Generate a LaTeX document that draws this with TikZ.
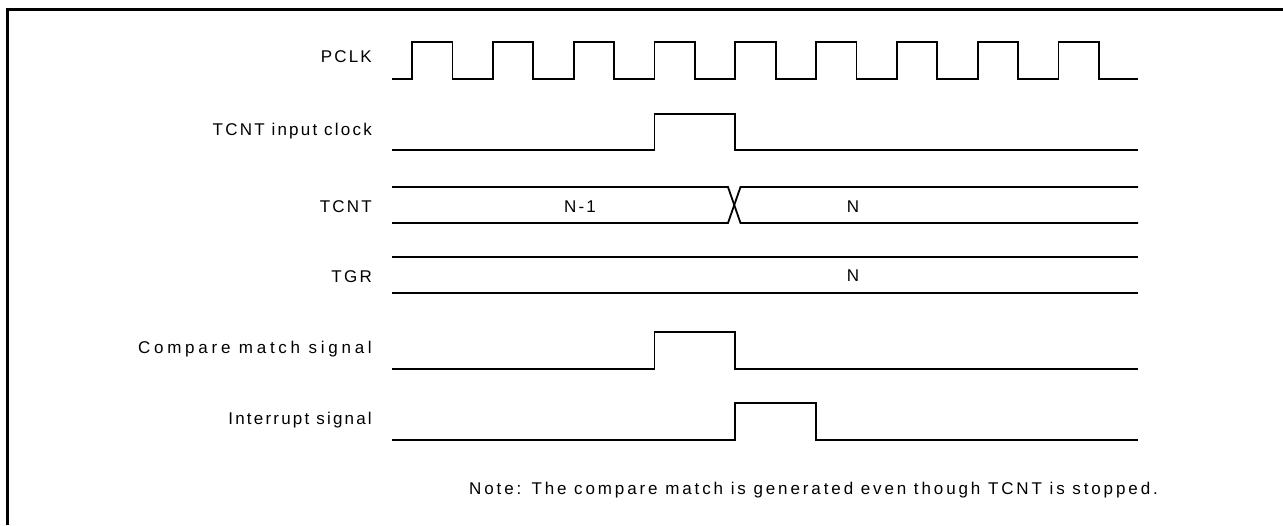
\documentclass[tikz,border=0pt]{standalone}
\usepackage{fontspec}
\setmainfont{Liberation Sans}
\newfontfamily\lblfont[LetterSpace=13]{Liberation Sans}
\newfontfamily\widefont[LetterSpace=22]{Liberation Sans}
\newfontfamily\notefont[LetterSpace=17]{Liberation Sans}
\begin{document}
\begin{tikzpicture}[x=1pt,y=-1pt,
  sig/.style={line width=1.8pt,line join=miter},
  frameline/.style={line width=3pt},
  lbl/.style={anchor=base east,inner sep=0pt,font=\lblfont\fontsize{17}{19}\selectfont},
  widelbl/.style={lbl,font=\widefont\fontsize{17}{19}\selectfont},
  val/.style={anchor=base,inner sep=0pt,font=\lblfont\fontsize{17}{19}\selectfont},
  note/.style={anchor=base west,inner sep=0pt,font=\notefont\fontsize{17}{19}\selectfont}]
\useasboundingbox (0,0) rectangle (1283,525);
% frame
\draw[frameline] (7.5,525) -- (7.5,9.5) -- (1283,9.5);
% labels
\node[lbl] (lpclk) at (372,62) {PCLK};
\node[lbl] (lin) at (372,135) {TCNT input clock};
\node[lbl] (ltcnt) at (372,212) {TCNT};
\node[lbl] (ltgr) at (372,282) {TGR};
\node[widelbl] (lcmp) at (372,353) {Compare match signal};
\node[lbl] (lint) at (372,424) {Interrupt signal};
% PCLK
\draw[sig] (392,79) foreach \k in {0,...,8} { -- ({412+80.8*\k},79) -- ({412+80.8*\k},42) -- ({452.4+80.8*\k},42) -- ({452.4+80.8*\k},79) } -- (1138,79);
% TCNT input clock
\draw[sig] (392,150) -- (654.4,150) -- (654.4,114) -- (735.2,114) -- (735.2,150) -- (1138,150);
% TCNT bus
\draw[sig] (392,187) -- (728,187) -- (740.5,223) -- (1138,223);
\draw[sig] (392,223) -- (728,223) -- (740.5,187) -- (1138,187);
\node[val] (vn1) at (580,212) {N-1};
\node[val] (vn) at (853,212) {N};
% TGR
\draw[sig] (392,257) -- (1138,257);
\draw[sig] (392,293) -- (1138,293);
\node[val] (vtgr) at (853,281) {N};
% Compare match
\draw[sig] (392,369) -- (654.4,369) -- (654.4,332) -- (735.2,332) -- (735.2,369) -- (1138,369);
% Interrupt
\draw[sig] (392,440) -- (735.2,440) -- (735.2,403) -- (816,403) -- (816,440) -- (1138,440);
% note
\node[note] (nt) at (469,494) {Note: The compare match is generated even though TCNT is stopped.};
\end{tikzpicture}
\end{document}
